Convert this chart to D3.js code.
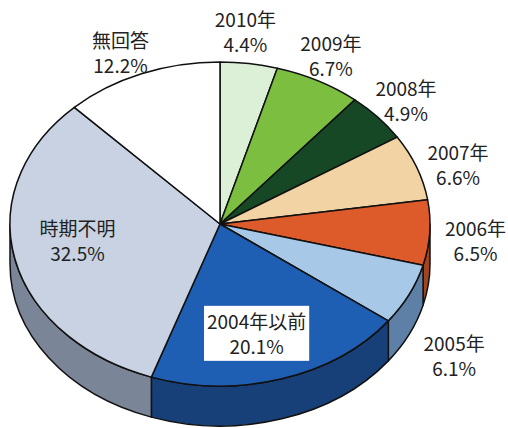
<!DOCTYPE html>
<html>
<head>
<meta charset="utf-8">
<script src="https://cdn.jsdelivr.net/npm/d3@7"></script>
<style>
  html, body { margin: 0; padding: 0; background: #ffffff; }
  svg { display: block; }
</style>
</head>
<body>
<script>
// ---- data ----
const categories = ["2010年", "2009年", "2008年", "2007年", "2006年", "2005年", "2004年以前", "時期不明", "無回答"];
const values = [4.4, 6.7, 4.9, 6.6, 6.5, 6.1, 20.1, 32.5, 12.2];
const percentLabels = ["4.4%", "6.7%", "4.9%", "6.6%", "6.5%", "6.1%", "20.1%", "32.5%", "12.2%"];

// ---- styles ----
const topColors = ["#dcf0d7", "#7cbf40", "#164826", "#f2d3a4", "#dd5a2b", "#a7c9e7", "#1f5fb3", "#c8d2e3", "#ffffff"];
const sideColors = ["#aabfa6", "#4f8a26", "#0c2a15", "#b59868", "#a2441d", "#5f80a6", "#173f78", "#7b8598", "#b0b0b0"];
const insideLabel = [false, false, false, false, false, false, true, true, false];
const boxedLabel = [false, false, false, false, false, false, true, false, false];
// small label nudges (px) relative to the radial anchor
const labelNudge = [[-9, -2], [-6, 1], [-2, 3], [4, 8], [6, 6], [9, 47], [-6, 2], [-1, -8], [-6, 7]];

// ---- layout ----
const W = 508, H = 428;
const cx = 220, cy = 224, rx = 210, ry = 162, depth = 40;
const outerK = 1.19, innerK = 0.69;

const svg = d3.select("body").append("svg").attr("width", W).attr("height", H);

const pie = d3.pie().sort(null).value(d => d.value);
const data = categories.map((c, i) => ({ name: c, value: values[i], pct: percentLabels[i], i }));
const arcs = pie(data);

const pt = (a, dy = 0) => [cx + rx * Math.sin(a), cy - ry * Math.cos(a) + dy];

// ---- side walls (visible front half) ----
const sideG = svg.append("g");
arcs.forEach(d => {
  const a0 = Math.max(d.startAngle, Math.PI / 2);
  const a1 = Math.min(d.endAngle, 3 * Math.PI / 2);
  if (a1 <= a0) return;
  const p0 = pt(a0), p1 = pt(a1), q1 = pt(a1, depth), q0 = pt(a0, depth);
  const large = (a1 - a0) > Math.PI ? 1 : 0;
  const path = `M${p0[0]},${p0[1]} A${rx},${ry} 0 ${large} 1 ${p1[0]},${p1[1]} L${q1[0]},${q1[1]} A${rx},${ry} 0 ${large} 0 ${q0[0]},${q0[1]} Z`;
  sideG.append("path")
    .attr("d", path)
    .attr("fill", sideColors[d.data.i])
    .attr("stroke", "#111")
    .attr("stroke-width", 1.5)
    .attr("stroke-linejoin", "round");
});

// ---- top faces ----
const arcGen = d3.arc().innerRadius(0).outerRadius(rx);
const topG = svg.append("g").attr("transform", `translate(${cx},${cy}) scale(1,${ry / rx})`);
topG.selectAll("path").data(arcs).join("path")
  .attr("d", arcGen)
  .attr("fill", d => topColors[d.data.i])
  .attr("stroke", "#111")
  .attr("stroke-width", 1.5)
  .attr("stroke-linejoin", "round")
  .attr("vector-effect", "non-scaling-stroke");

// ---- labels ----
const labelG = svg.append("g")
  .attr("font-family", "'Noto Sans CJK JP', 'Noto Sans', sans-serif")
  .attr("font-size", 19)
  .attr("fill", "#222")
  .attr("text-anchor", "middle");

arcs.forEach(d => {
  const i = d.data.i;
  const mid = (d.startAngle + d.endAngle) / 2;
  const k = insideLabel[i] ? innerK : outerK;
  const x = cx + k * rx * Math.sin(mid) + labelNudge[i][0];
  const y = cy - k * ry * Math.cos(mid) + labelNudge[i][1];
  const g = labelG.append("g");
  const t1 = g.append("text").attr("x", x).attr("y", y - 12.5).attr("dominant-baseline", "central").text(d.data.name);
  const t2 = g.append("text").attr("x", x).attr("y", y + 12.5).attr("dominant-baseline", "central").text(d.data.pct);
  if (boxedLabel[i]) {
    const b1 = t1.node().getBBox(), b2 = t2.node().getBBox();
    const x0 = Math.min(b1.x, b2.x) - 3, x1 = Math.max(b1.x + b1.width, b2.x + b2.width) + 3;
    const y0 = b1.y - 1, y1 = b2.y + b2.height + 2;
    g.insert("rect", "text")
      .attr("x", x0).attr("y", y0)
      .attr("width", x1 - x0).attr("height", y1 - y0)
      .attr("fill", "#ffffff");
  }
});
</script>
</body>
</html>
